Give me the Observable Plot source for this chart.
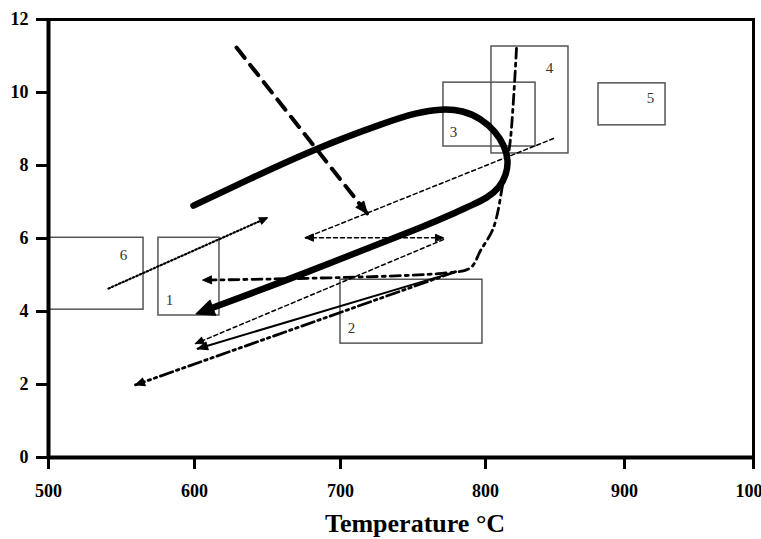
<!DOCTYPE html>
<html><head><meta charset="utf-8">
<script src="https://cdn.jsdelivr.net/npm/d3@7"></script>
<script src="https://cdn.jsdelivr.net/npm/@observablehq/plot@0.6"></script>
<style>body{margin:0;background:#fff}</style>
</head><body><div id="chart"></div>
<script>
// ---- data (Temperature °C, y value) ----
const xTicks = [500, 600, 700, 800, 900, 1000];
const yTicks = [0, 2, 4, 6, 8, 10, 12];
const xLabel = "Temperature °C";

const hairpin = [[599.3,6.90],[638.4,7.64],[684.2,8.46],[727.6,9.12],[751.7,9.42],[769.0,9.53],[784.1,9.48],[796.6,9.26],[806.5,8.93],[812.9,8.55],[815.8,8.14],[814.4,7.75],[809.4,7.40],[800.7,7.12],[789.7,6.90],[775.9,6.65],[755.2,6.30],[727.6,5.87],[700,5.44],[672.6,5.01],[638.4,4.49],[606.8,4.02]];
const thickDashed = [[628.8,11.23],[718.5,6.68]];
const thinDashA = [[848.9,8.74],[676.0,6.02]];
const thinDashH = [[676.0,6.02],[771.0,6.02]];
const thinDashB = [[771.0,5.97],[600.7,3.12]];
const solidThin = [[774.5,5.03],[602.1,2.98]];
const dashDot = [[822.3,11.21],[820.1,9.78],[817.9,8.70],[815.8,8.14],[812.9,7.59],[805.8,6.30],[796.6,5.67],[789.7,5.20],[773.8,5.06],[605.5,4.86]];
const dashDotDot = [[779.3,5.09],[559.6,1.99]];
const dotted = [[541.1,4.63],[650.0,6.57]];

const boxIds = ["1","2","3","4","5","6"];
const boxX1 = [575.3, 700.0, 771.0, 804.3, 881.3, 500.0];
const boxX2 = [617.1, 797.9, 836.0, 859.7, 931.8, 565.1];
const boxY1 = [3.89, 3.12, 8.52, 8.33, 9.10, 4.05];
const boxY2 = [6.02, 4.87, 10.27, 11.26, 10.25, 6.02];
const labelX = [582.9, 707.6, 777.9, 846.0, 920.1, 551.4];
const labelY = [4.30, 3.53, 8.90, 10.66, 9.84, 5.53];

const boxes = boxIds.map((id, i) => ({id, x1: boxX1[i], x2: boxX2[i], y1: boxY1[i], y2: boxY2[i], lx: labelX[i], ly: labelY[i]}));

// ---- scales ----
const xScale = {type: "linear", domain: xTicks, range: [48, 194, 340, 485, 624, 753]};
const yScale = {type: "linear", domain: [0, 12], range: [457, 19]};
const sx = Plot.scale({x: xScale});
const sy = Plot.scale({y: yScale});

const px = d => d[0], py = d => d[1];

function tri(w) {
  return {draw(ctx, l) { ctx.moveTo(0, -l); ctx.lineTo(-w, 0); ctx.lineTo(w, 0); ctx.closePath(); }};
}
function head(pts, size, w, opts = {}) {
  const n = pts.length;
  const b = opts.start ? pts[0] : pts[n - 1];
  const a = opts.start ? pts[1] : pts[n - 2];
  const dx = sx.apply(b[0]) - sx.apply(a[0]);
  const dy = sy.apply(b[1]) - sy.apply(a[1]);
  const rot = Math.atan2(dx, -dy) * 180 / Math.PI;
  return Plot.vector([b], {x: px, y: py, length: size, rotate: rot, anchor: opts.anchor || "end",
    shape: tri(w), fill: "black", stroke: "black", strokeWidth: 1});
}
function ln(pts, o) { return Plot.line(pts, {x: px, y: py, stroke: "black", ...o}); }

const chart = Plot.plot({
  width: 761, height: 539,
  marginLeft: 48, marginRight: 8, marginTop: 19, marginBottom: 82,
  x: xScale, y: yScale,
  style: {fontFamily: "'Liberation Serif', 'Times New Roman', serif", fontSize: "18px", fontWeight: "bold", color: "black", background: "white"},
  marks: [
    Plot.rect(boxes, {x1: "x1", x2: "x2", y1: "y1", y2: "y2", fill: "none", stroke: "#555", strokeWidth: 1.5}),
    Plot.text(boxes, {x: "lx", y: "ly", text: "id", fontSize: 15, fontWeight: "normal", fill: "#333"}),
    ln(dotted, {strokeWidth: 2.2, strokeDasharray: "1.5,2.3"}),
    head(dotted, 8, 3.5),
    ln(thinDashA, {strokeWidth: 1.5, strokeDasharray: "4,3"}),
    ln(thinDashH, {strokeWidth: 1.5, strokeDasharray: "4,3"}),
    head(thinDashH, 8, 3.5),
    head(thinDashH, 8, 3.5, {start: true}),
    ln(thinDashB, {strokeWidth: 1.5, strokeDasharray: "4,3"}),
    head(thinDashB, 8, 3.5),
    ln(solidThin, {strokeWidth: 2}),
    head(solidThin, 10, 4),
    ln(dashDotDot, {strokeWidth: 2.8, strokeDasharray: "13,4,2.5,4,2.5,4"}),
    head(dashDotDot, 9, 4),
    ln(dashDot, {strokeWidth: 2.8, strokeDasharray: "10,5,3,5", curve: "catmull-rom"}),
    head(dashDot, 9, 4),
    ln(thickDashed, {strokeWidth: 4, strokeDasharray: "13,9"}),
    head(thickDashed, 12, 5),
    ln(hairpin, {strokeWidth: 6.5, curve: "natural", strokeLinejoin: "round"}),
    head(hairpin, 18, 8, {anchor: "middle"}),
    Plot.frame({stroke: "black", strokeWidth: 3}),
    Plot.ruleX([500], {strokeWidth: 4}),
    Plot.ruleY([0], {strokeWidth: 4}),
    Plot.axisX(xTicks, {tickSize: 12, tickPadding: 15, strokeWidth: 3, label: null, tickFormat: d => String(d)}),
    Plot.axisY(yTicks, {tickSize: 12, tickPadding: 8, strokeWidth: 3, label: null}),
    Plot.text([xLabel], {frameAnchor: "bottom", dx: 14, dy: 74, fontSize: 26, fontWeight: "bold", lineAnchor: "bottom"})
  ]
});
document.getElementById("chart").appendChild(chart);
</script>
</body></html>
